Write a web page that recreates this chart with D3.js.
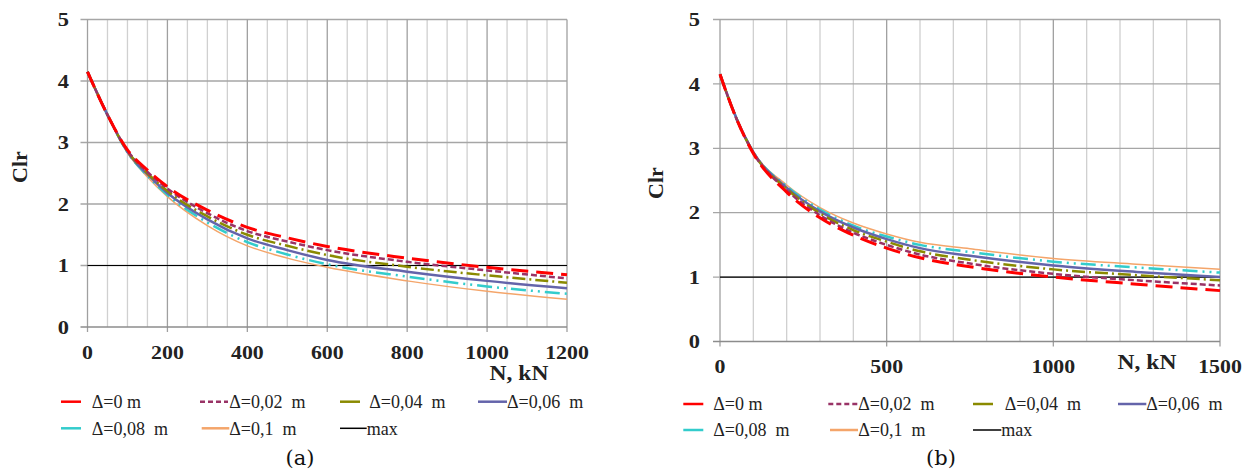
<!DOCTYPE html>
<html><head><meta charset="utf-8">
<script src="https://cdn.jsdelivr.net/npm/d3@7"></script>
<style>
html,body{margin:0;padding:0;background:#fff;}
text{white-space:pre;}
</style></head>
<body><svg id="c" width="1253" height="472"></svg>
<script>
// ---------- data ----------
const seriesNames = ["Δ=0 m", "Δ=0,02  m", "Δ=0,04  m", "Δ=0,06  m", "Δ=0,08  m", "Δ=0,1  m", "max"];
const yTicks = [0, 1, 2, 3, 4, 5];

// panel (a)
const aN = [0, 50, 100, 150, 200, 300, 400, 500, 600, 800, 1000, 1200];
const aD0   = [4.15, 3.45, 2.88, 2.55, 2.28, 1.90, 1.62, 1.45, 1.31, 1.12, 0.97, 0.85];
const aD002 = [4.15, 3.45, 2.87, 2.52, 2.25, 1.85, 1.56, 1.39, 1.25, 1.06, 0.92, 0.79];
const aD004 = [4.15, 3.45, 2.86, 2.50, 2.21, 1.80, 1.50, 1.32, 1.17, 0.98, 0.84, 0.72];
const aD006 = [4.15, 3.45, 2.85, 2.48, 2.18, 1.75, 1.44, 1.25, 1.09, 0.90, 0.75, 0.63];
const aD008 = [4.15, 3.45, 2.84, 2.46, 2.15, 1.70, 1.38, 1.18, 1.02, 0.82, 0.66, 0.54];
const aD01  = [4.15, 3.44, 2.83, 2.44, 2.12, 1.65, 1.32, 1.12, 0.97, 0.75, 0.58, 0.45];
const aMax  = [1, 1];
const aMaxN = [0, 1200];
const aXTicks = [0, 200, 400, 600, 800, 1000, 1200];

// panel (b)
const bN = [0, 50, 100, 200, 300, 400, 500, 600, 750, 1000, 1250, 1500];
const bD0   = [4.15, 3.45, 2.92, 2.32, 1.92, 1.65, 1.45, 1.30, 1.16, 1.00, 0.89, 0.79];
const bD002 = [4.15, 3.45, 2.93, 2.35, 1.96, 1.69, 1.50, 1.35, 1.21, 1.05, 0.95, 0.87];
const bD004 = [4.15, 3.45, 2.93, 2.37, 1.99, 1.73, 1.55, 1.40, 1.27, 1.12, 1.03, 0.95];
const bD006 = [4.15, 3.46, 2.94, 2.39, 2.02, 1.77, 1.59, 1.45, 1.33, 1.18, 1.08, 1.00];
const bD008 = [4.15, 3.46, 2.94, 2.41, 2.05, 1.80, 1.63, 1.50, 1.39, 1.24, 1.15, 1.07];
const bD01  = [4.15, 3.46, 2.95, 2.43, 2.08, 1.84, 1.67, 1.54, 1.44, 1.29, 1.20, 1.12];
const bMax  = [1, 1];
const bMaxN = [0, 1500];
const bXTicks = [0, 500, 1000, 1500];

// ---------- styles ----------
const styles = [
  {color:"#ff0000", w:3,   dash:"17,8"},
  {color:"#993366", w:2.5, dash:"6,3"},
  {color:"#8a8a00", w:2.5, dash:"13,4,2,4"},
  {color:"#6464aa", w:2.5, dash:null},
  {color:"#33cccc", w:2.5, dash:"15,5,2,5,2,5"},
  {color:"#f4a56a", w:1.5, dash:null},
  {color:"#000000", w:1.2, dash:null}
];
const legendDash = [null, "5,3", null, null, null, null, null];

const svg = d3.select("#c");
const serif = "'Liberation Serif','Times New Roman',serif";

function stext(g, x, y, str, anchor, size, sx, rot) {
  return g.append("text")
    .attr("transform", `translate(${x},${y})` + (rot ? ` rotate(${rot})` : "") + ` scale(${sx},1)`)
    .attr("dy", "0.35em").attr("text-anchor", anchor).attr("font-family", serif)
    .attr("font-weight", "bold").attr("font-size", size).attr("fill", "#222").text(str);
}

function panel(cfg) {
  const x = d3.scaleLinear().domain([0, cfg.xmax]).range([cfg.x0, cfg.x1]);
  const y = d3.scaleLinear().domain([0, 5]).range([cfg.yBot, cfg.yTop]);
  const g = svg.append("g");

  // minor vertical grid
  const minor = d3.range(0, cfg.xmax + 0.1, cfg.minor).filter(v => v % cfg.major !== 0);
  g.append("g").selectAll("line").data(minor).join("line")
    .attr("x1", d => x(d)).attr("x2", d => x(d))
    .attr("y1", cfg.yTop).attr("y2", cfg.yBot)
    .attr("stroke", "#d0d0d0").attr("stroke-width", 1.3);
  // horizontal grid
  g.append("g").selectAll("line").data(yTicks.slice(1)).join("line")
    .attr("x1", cfg.x0 - 7).attr("x2", cfg.x1)
    .attr("y1", d => y(d)).attr("y2", d => y(d))
    .attr("stroke", "#a6a6a6").attr("stroke-width", 1.3);
  // major vertical grid
  g.append("g").selectAll("line").data(cfg.xTicks).join("line")
    .attr("x1", d => x(d)).attr("x2", d => x(d))
    .attr("y1", cfg.yTop).attr("y2", cfg.yBot + 5)
    .attr("stroke", "#a0a0a0").attr("stroke-width", 1.3);
  // bottom axis line
  g.append("line").attr("x1", cfg.x0 - 7).attr("x2", cfg.x1)
    .attr("y1", cfg.yBot).attr("y2", cfg.yBot)
    .attr("stroke", "#8c8c8c").attr("stroke-width", 1.3);

  // tick labels
  yTicks.forEach(d => stext(g, cfg.ylabX, y(d), d, "end", 19, 1.18));
  cfg.xTicks.forEach(d => stext(g, x(d), cfg.xlabY, d, "middle", 19, 1.15));
  // axis titles
  stext(g, cfg.nkX, cfg.nkY, "N, kN", "middle", 21, 1.12);
  stext(g, cfg.clrX, cfg.clrY, "Clr", "middle", 22, 1.0, -90);

  // series
  const line = d3.line().x(d => x(d[0])).y(d => y(d[1])).curve(d3.curveMonotoneX);
  const series = cfg.series.map((vals, i) => ({i, pts: vals.map((v, k) => [cfg.Ns[i][k], v])}));
  const order = [6, 5, 4, 3, 2, 1, 0];
  order.forEach(i => {
    const s = styles[i];
    g.append("path").attr("d", line(series[i].pts))
      .attr("fill", "none").attr("stroke", s.color).attr("stroke-width", s.w)
      .attr("stroke-dasharray", s.dash);
  });

  // legend
  cfg.legend.forEach((L, i) => {
    const s = styles[i];
    g.append("line").attr("x1", L[0]).attr("x2", L[1]).attr("y1", L[3]).attr("y2", L[3])
      .attr("stroke", s.color).attr("stroke-width", i === 6 ? 1.5 : 2.5)
      .attr("stroke-dasharray", legendDash[i]);
    g.append("text").attr("x", L[2]).attr("y", L[3]).attr("dy", "0.35em")
      .attr("font-family", serif).attr("font-size", 18).attr("fill", "#222")
      .text(seriesNames[i]);
  });

  // caption
  g.append("text").attr("x", cfg.capX).attr("y", cfg.capY).attr("dy", "0.35em")
    .attr("text-anchor", "middle").attr("font-family", "'DejaVu Serif',serif")
    .attr("font-size", 21).attr("fill", "#111").text(cfg.cap);
}

panel({
  x0: 87.5, x1: 567, yTop: 19.5, yBot: 327, xmax: 1200, major: 200, minor: 50,
  xTicks: aXTicks, ylabX: 69, xlabY: 352.5, nkX: 519, nkY: 372.5, clrX: 19, clrY: 167,
  series: [aD0, aD002, aD004, aD006, aD008, aD01, aMax],
  Ns: [aN, aN, aN, aN, aN, aN, aMaxN],
  legend: [[61, 81, 91.7, 401.7], [200, 228, 229.3, 401.7], [340, 360, 369.3, 401.7], [478, 507, 507, 401.7],
           [61, 81, 91.7, 428.3], [201.7, 229.3, 229.3, 428.3], [340, 366.7, 366.7, 428.3]],
  capX: 300, capY: 458, cap: "(a)"
});
panel({
  x0: 720, x1: 1220, yTop: 19.5, yBot: 341.5, xmax: 1500, major: 500, minor: 100,
  xTicks: bXTicks, ylabX: 700, xlabY: 366.7, nkX: 1147, nkY: 362, clrX: 655, clrY: 183,
  series: [bD0, bD002, bD004, bD006, bD008, bD01, bMax],
  Ns: [bN, bN, bN, bN, bN, bN, bMaxN],
  legend: [[683.3, 703.3, 713.3, 404], [828.3, 858.3, 858.3, 404], [973, 993, 1004.7, 404], [1118, 1146.3, 1146.3, 404],
           [683.3, 703.3, 713.3, 430], [830, 858, 858.3, 430], [973, 1001.3, 1001.3, 430]],
  capX: 941, capY: 458, cap: "(b)"
});
</script></body></html>
